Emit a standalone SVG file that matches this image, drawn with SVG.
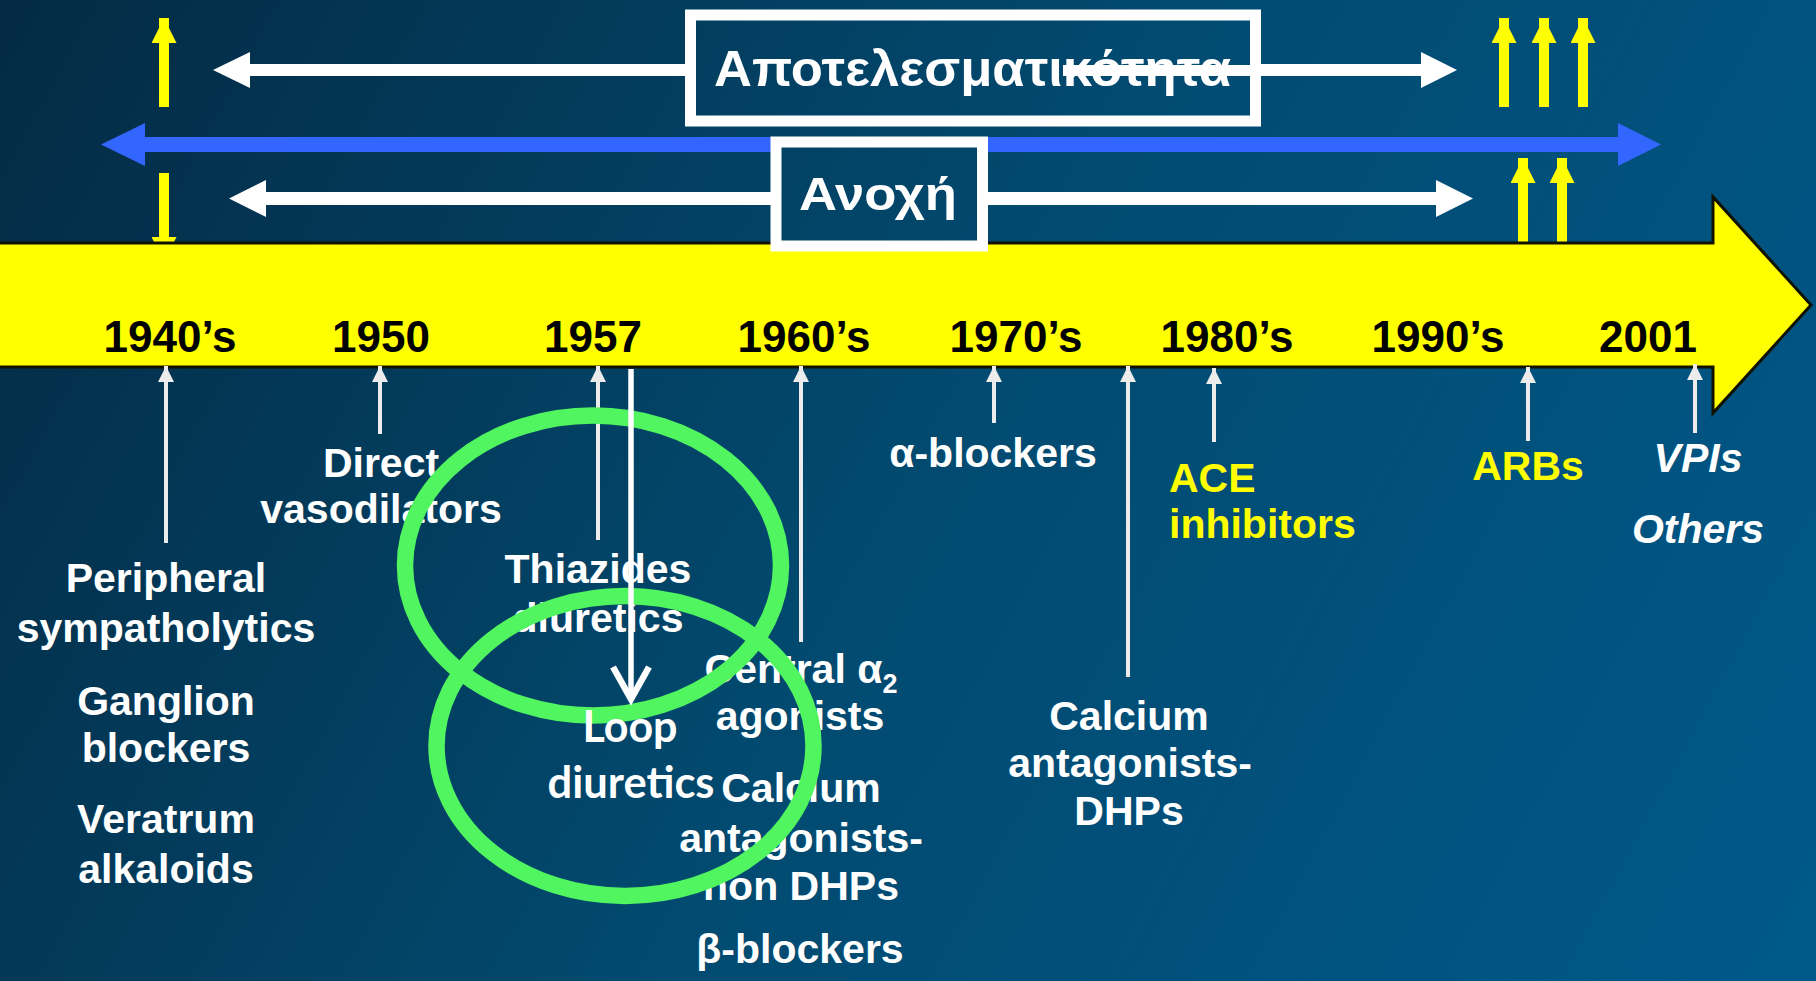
<svg xmlns="http://www.w3.org/2000/svg" width="1816" height="981" viewBox="0 0 1816 981">
  <defs>
    <linearGradient id="bg" gradientUnits="userSpaceOnUse" x1="0" y1="0" x2="1816" y2="981">
      <stop offset="0" stop-color="#042a43"/>
      <stop offset="0.5" stop-color="#024a70"/>
      <stop offset="1" stop-color="#00598a"/>
    </linearGradient>
    <marker id="wh" viewBox="0 -8 16 16" refX="16" refY="0" markerWidth="16" markerHeight="16" markerUnits="userSpaceOnUse" orient="auto">
      <path d="M0,-8 L16,0 L0,8 z" fill="#ececec"/>
    </marker>
    <marker id="yh" viewBox="0 -12.5 25 25" refX="25" refY="0" markerWidth="25" markerHeight="25" markerUnits="userSpaceOnUse" orient="auto">
      <path d="M0,-12.5 L25,0 L0,12.5 z" fill="#ffff00"/>
    </marker>
    <style>
      .lbl { font-family: "Liberation Sans", Arial, sans-serif; font-weight: bold; font-size: 41px; fill: #ffffff; text-anchor: middle; }
      .yel { fill: #ffff00; }
      .it { font-style: italic; }
      .year { font-family: "Liberation Sans", Arial, sans-serif; font-weight: bold; font-size: 44px; fill: #000000; text-anchor: middle; }
      .thin { stroke: #ececec; stroke-width: 4; fill: none; marker-end: url(#wh); }
      .yarr { stroke: #ffff00; stroke-width: 10; fill: none; marker-end: url(#yh); }
      .wide { fill: #ffffff; }
      .frame { fill: url(#bg); stroke: #ffffff; stroke-width: 11; }
      .title { font-family: "Liberation Sans", Arial, sans-serif; font-weight: bold; fill: #ffffff; }
      .ring { fill: none; stroke: #50f560; stroke-width: 16.5; }
      .loop { font-family: Lato, "Open Sans", sans-serif; font-weight: bold; font-size: 43px; fill: #ffffff; text-anchor: middle; }
    </style>
  </defs>

  <rect width="1816" height="981" fill="url(#bg)"/>

  <!-- yellow indicator arrows above the time line -->
  <g id="yellow-markers">
    <line class="yarr" x1="164" y1="107" x2="164" y2="18"/>
    <line class="yarr" x1="164" y1="173" x2="164" y2="262"/>
    <line class="yarr" x1="1504" y1="107" x2="1504" y2="18"/>
    <line class="yarr" x1="1544" y1="107" x2="1544" y2="18"/>
    <line class="yarr" x1="1583" y1="107" x2="1583" y2="18"/>
    <line class="yarr" x1="1523" y1="250" x2="1523" y2="158"/>
    <line class="yarr" x1="1562" y1="250" x2="1562" y2="158"/>
  </g>

  <!-- efficacy span (white double arrow) -->
  <g id="efficacy-span">
    <rect x="248" y="64" width="1176" height="12" class="wide"/>
    <polygon class="wide" points="213,70 250,52 250,88"/>
    <polygon class="wide" points="1457,70 1421,52 1421,88"/>
  </g>

  <!-- blue double arrow -->
  <g id="blue-span">
    <rect x="142" y="137" width="1479" height="15" fill="#3366ff"/>
    <polygon fill="#3366ff" points="101,144.5 145,123 145,166"/>
    <polygon fill="#3366ff" points="1661,144.5 1618,123 1618,166"/>
  </g>

  <!-- tolerance span (white double arrow) -->
  <g id="tolerance-span">
    <rect x="263" y="192" width="1175" height="13" class="wide"/>
    <polygon class="wide" points="229,198.5 266,180 266,217"/>
    <polygon class="wide" points="1473,198.5 1436,180 1436,217"/>
  </g>

  <!-- time line band -->
  <g id="timeline">
    <polygon points="-10,243 1713,243 1713,197 1811,305 1713,413 1713,367 -10,367" fill="#ffff00" stroke="#111100" stroke-width="3" stroke-linejoin="miter"/>
    <text class="year" x="170" y="352">1940’s</text>
    <text class="year" x="381" y="352">1950</text>
    <text class="year" x="593" y="352">1957</text>
    <text class="year" x="804" y="352">1960’s</text>
    <text class="year" x="1016" y="352">1970’s</text>
    <text class="year" x="1227" y="352">1980’s</text>
    <text class="year" x="1438" y="352">1990’s</text>
    <text class="year" x="1648" y="352">2001</text>
  </g>

  <!-- boxed headings -->
  <g id="box-efficacy">
    <rect class="frame" x="690.5" y="15" width="565" height="106"/>
    <text class="title" x="714" y="86" font-size="50" textLength="517" lengthAdjust="spacingAndGlyphs">Αποτελεσματικότητα</text>
    <rect x="1063" y="65" width="198" height="11" fill="#ffffff"/>
  </g>
  <g id="box-tolerance">
    <rect class="frame" x="776" y="142" width="206.5" height="104"/>
    <text class="title" x="799" y="210" font-size="47" textLength="158" lengthAdjust="spacingAndGlyphs">Ανοχή</text>
  </g>

  <!-- pointers from the time line to the drug classes -->
  <g id="connectors">
    <line class="thin" x1="166" y1="543" x2="166" y2="366"/>
    <line class="thin" x1="380" y1="434" x2="380" y2="366"/>
    <line class="thin" x1="598" y1="540" x2="598" y2="366"/>
    <line class="thin" x1="801" y1="642" x2="801" y2="366"/>
    <line class="thin" x1="994" y1="423" x2="994" y2="366"/>
    <line class="thin" x1="1128" y1="677" x2="1128" y2="366"/>
    <line class="thin" x1="1214" y1="442" x2="1214" y2="368"/>
    <line class="thin" x1="1528" y1="441" x2="1528" y2="367"/>
    <line class="thin" x1="1695" y1="433" x2="1695" y2="364"/>
  </g>

  <!-- drug classes -->
  <g id="cls-1940s">
    <text class="lbl" x="166" y="592">Peripheral</text>
    <text class="lbl" x="166" y="642">sympatholytics</text>
    <text class="lbl" x="166" y="715">Ganglion</text>
    <text class="lbl" x="166" y="762">blockers</text>
    <text class="lbl" x="166" y="833">Veratrum</text>
    <text class="lbl" x="166" y="883">alkaloids</text>
  </g>
  <g id="cls-1950">
    <text class="lbl" x="381" y="477">Direct</text>
    <text class="lbl" x="381" y="523">vasodilators</text>
  </g>
  <g id="cls-1957">
    <text class="lbl" x="598" y="583">Thiazides</text>
    <text class="lbl" x="598" y="632">diuretics</text>
  </g>
  <g id="cls-1960s">
    <text class="lbl" x="801" y="683">Central α<tspan font-size="27" dy="10">2</tspan></text>
    <text class="lbl" x="800" y="730">agonists</text>
    <text class="lbl" x="801" y="802">Calcium</text>
    <text class="lbl" x="801" y="852">antagonists-</text>
    <text class="lbl" x="801" y="900">non DHPs</text>
    <text class="lbl" x="800" y="963">β-blockers</text>
  </g>
  <g id="cls-1970s">
    <text class="lbl" x="993" y="467">α-blockers</text>
    <text class="lbl" x="1129" y="730">Calcium</text>
    <text class="lbl" x="1130" y="777">antagonists-</text>
    <text class="lbl" x="1129" y="825">DHPs</text>
  </g>
  <g id="cls-1980s">
    <text class="lbl yel" x="1169" y="492" style="text-anchor:start">ACE</text>
    <text class="lbl yel" x="1169" y="538" style="text-anchor:start">inhibitors</text>
  </g>
  <g id="cls-1990s">
    <text class="lbl yel" x="1528" y="480">ARBs</text>
  </g>
  <g id="cls-2001">
    <text class="lbl it" x="1698" y="472">VPIs</text>
    <text class="lbl it" x="1698" y="543">Others</text>
  </g>

  <!-- highlight rings and the loop-diuretic note -->
  <g id="rings">
    <ellipse class="ring" cx="593" cy="565.5" rx="188" ry="150"/>
    <ellipse class="ring" cx="625" cy="746" rx="188.5" ry="150"/>
  </g>
  <g id="loop-note">
    <line x1="631" y1="369" x2="631" y2="698" stroke="#ffffff" stroke-width="5.5"/>
    <polyline points="613,667 631,699 649,667" fill="none" stroke="#ffffff" stroke-width="6.5" stroke-linejoin="miter"/>
    <text class="loop" x="630" y="742">Loop</text>
    <text class="loop" x="631" y="798" textLength="167" lengthAdjust="spacingAndGlyphs">diuretics</text>
  </g>
</svg>
